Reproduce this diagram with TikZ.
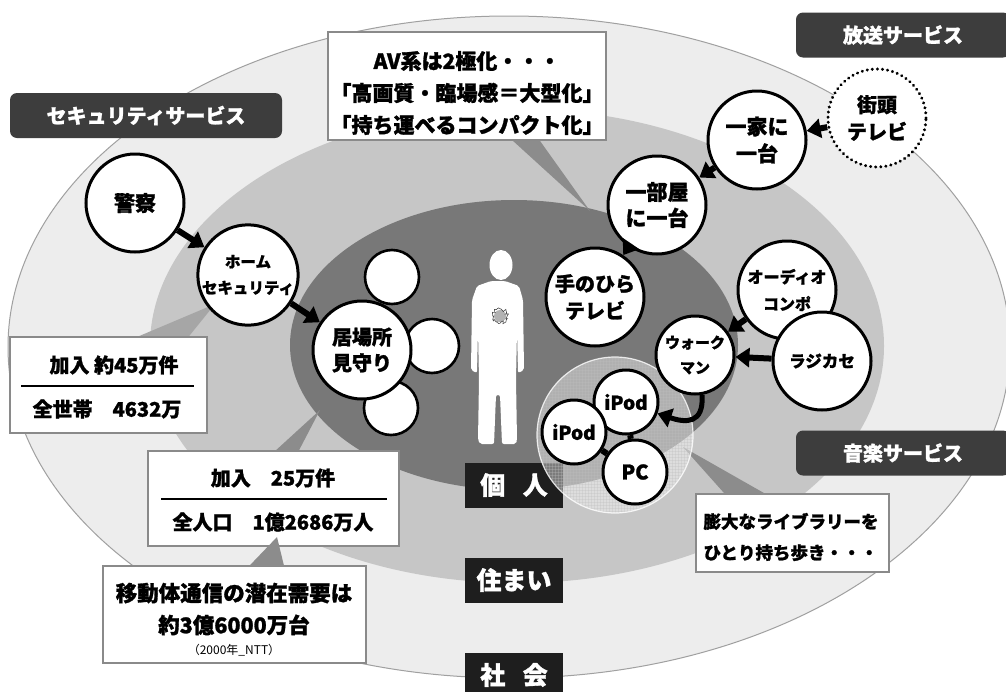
\documentclass[tikz,border=0pt]{standalone}
\usepackage{fontspec}
\setmainfont{Noto Sans CJK JP}[BoldFeatures={FakeBold=1.3}]
\usetikzlibrary{arrows.meta,calc,patterns,decorations.pathmorphing}
\newcommand\jp[2]{\bfseries\fontsize{#1}{#2}\selectfont}
\definecolor{outerc}{HTML}{EDEDED}
\definecolor{outerline}{HTML}{A0A0A0}
\definecolor{midc}{HTML}{C6C6C6}
\definecolor{innerc}{HTML}{787878}
\definecolor{tailc}{HTML}{8C8C8C}
\definecolor{taillight}{HTML}{A6A6A6}
\definecolor{tagc}{HTML}{3D3D3D}
\definecolor{layerc}{HTML}{1E1E1E}
\definecolor{boxline}{HTML}{8A8A8A}
\begin{document}
\begin{tikzpicture}[x=1pt,y=-1pt,
  bub/.style={circle, draw=black, line width=3pt, fill=white, minimum size=#1, inner sep=0pt, align=center},
  bub/.default=98pt,
  dotbub/.style={circle, draw=black, line width=3.2pt, dash pattern=on 0.1pt off 5pt, line cap=round, fill=white, minimum size=98pt, inner sep=0pt, align=center},
  blob/.style={circle, draw=black, line width=2.6pt, fill=white, minimum size=54pt, inner sep=0pt},
  arr/.style={line width=6pt, -{Triangle[length=14pt,width=19pt]}},
  link/.style={line width=6pt},
  tag/.style={rounded corners=7pt, fill=tagc, text=white, minimum height=45pt, inner sep=0pt, font=\jp{20}{24}},
  layer/.style={fill=layerc, text=white, minimum width=98pt, minimum height=45pt, inner sep=0pt, font=\jp{25}{28}},
  notebox/.style={draw=boxline, line width=1.8pt, fill=white, inner sep=0pt},
  txt/.style={inner sep=0pt, align=center},
]
\useasboundingbox (0,0) rectangle (1006,691);
\fill[white] (0,0) rectangle (1006,691);

% three rings: society, home, individual
\path[fill=outerc, draw=outerline, line width=1pt] (509,347) ellipse [x radius=501pt, y radius=331pt];
\path[fill=midc] (517,346) ellipse [x radius=367pt, y radius=237pt];
\path[fill=innerc] (514,345) ellipse [x radius=224pt, y radius=145pt];

% callout boxes (drawn first so the pointers can sit under them)
\node[notebox, minimum width=278pt, minimum height=108pt] (av) at (467,86) {};
\node[notebox, minimum width=197pt, minimum height=96pt] (stat1) at (108.5,385) {};
\node[notebox, minimum width=251pt, minimum height=95pt] (stat2) at (273.5,498.5) {};
\node[notebox, minimum width=193pt, minimum height=78pt] (lib) at (792.5,533) {};

\coordinate (avtip) at (590,211);
\coordinate (stat1tip) at (215,304);
\coordinate (stat2tip) at (320,410);
\coordinate (libtip) at (683,447);
\coordinate (mobtip) at (277,537);

\fill[tailc] ($(av.south)+(46,0)$) -- (avtip) -- ($(av.south)+(73,0)$) -- cycle;
\fill[taillight] ($(stat1.north west)+(130,0)$) -- (stat1tip) -- ($(stat1.north west)+(180,0)$) -- cycle;
\fill[tailc] ($(stat2.north west)+(129,0)$) -- (stat2tip) -- ($(stat2.north west)+(152,0)$) -- cycle;
\fill[tailc] ($(lib.north west)+(29,0)$) -- (libtip) -- ($(lib.north west)+(69,0)$) -- cycle;

% redraw the boxes over the pointer bases
\node[notebox, minimum width=278pt, minimum height=108pt] (avbox) at (467,86) {};
\node[notebox, minimum width=197pt, minimum height=96pt] (stat1box) at (108.5,385) {};
\node[notebox, minimum width=251pt, minimum height=95pt] (stat2box) at (273.5,498.5) {};
\node[notebox, minimum width=193pt, minimum height=78pt] (libbox) at (792.5,533) {};

\node[notebox, minimum width=263pt, minimum height=97pt] (mob) at (234.5,614.5) {};
\fill[tailc] ($(mob.north west)+(147,1)$) -- (mobtip) -- ($(mob.north west)+(182,1)$) -- cycle;

% box texts
\node[txt, font=\jp{21}{32}] (avtext) at (467,93) {AV系は2極化・・・\\「高画質・臨場感＝大型化」\\「持ち運べるコンパクト化」};
\node[txt, font=\jp{20}{22}] (stat1a) at (114,365) {加入 約45万件};
\node[txt, font=\jp{20}{22}] (stat1b) at (107,409) {全世帯　4632万};
\draw[line width=1.6pt] ($(stat1box.west)+(12,1)$) -- ($(stat1box.east)+(-14,1)$);
\node[txt, font=\jp{20}{22}] (stat2a) at (273,478) {加入　25万件};
\node[txt, font=\jp{20}{22}] (stat2b) at (273,522) {全人口　1億2686万人};
\draw[line width=1.6pt] ($(stat2box.west)+(14,0.5)$) -- ($(stat2box.east)+(-13,0.5)$);
\node[txt, font=\jp{21.5}{32}] (mobtext) at (234,609) {移動体通信の潜在需要は\\約3億6000万台};
\node[txt, font=\fontsize{12}{14}\selectfont] (mobsrc) at (234,650) {（2000年\_NTT）};
\node[txt, font=\jp{17.5}{31}, align=left] (libtext) at (791,537) {膨大なライブラリーを\\ひとり持ち歩き・・・};

% figure of a person in the centre
\fill[white] (501,265) ellipse [x radius=11.5pt, y radius=15pt];
\fill[white, rounded corners=2pt] (491,281) -- (477,286) -- (472,300) -- (471,370) -- (477,373)
  -- (478,330) -- (479,380) -- (478,440) -- (480,444) -- (494,444) -- (496,395) -- (500,395)
  -- (502,444) -- (516,444) -- (517,440) -- (516,380) -- (517,330) -- (518,373) -- (524,370)
  -- (523,300) -- (519,286) -- (505,281) -- cycle;
\fill[black!30] (500,316) circle [radius=6pt];
\draw[black!70, line width=0.6pt, decorate, decoration={random steps, segment length=1.3pt, amplitude=1.6pt}]
  (500,316) circle [radius=7pt];

% layer labels
\node[layer] (lyrself) at (514,485) {個\hspace{0.7em}人};
\node[layer] (lyrhome) at (514,580) {住まい};
\node[layer] (lyrsoc) at (514,675) {社\hspace{0.7em}会};

% security services
\node[blob] (blobA) at (392,277) {};
\node[blob] (blobB) at (432,346) {};
\node[blob] (blobC) at (391,408) {};
\node[bub, font=\jp{21}{26}] (police) at (135,203) {警察};
\node[bub, font=\jp{15.5}{26}] (homesec) at (248,275) {ホーム\\セキュリティ};
\node[bub, font=\jp{20}{26}] (ibasho) at (362,350) {居場所\\見守り};
\draw[arr] (police) -- (homesec);
\draw[arr] (homesec) -- (ibasho);

% broadcast services
\node[dotbub, font=\jp{20}{27}] (street) at (877,118) {街頭\\テレビ};
\node[bub, font=\jp{21}{27}] (household) at (757,140) {一家に\\一台};
\node[bub, font=\jp{21}{26}] (room) at (657,205) {一部屋\\に一台};
\node[bub, font=\jp{20}{27}] (palm) at (595,297) {手のひら\\テレビ};
\draw[arr] (street) -- (household);
\draw[arr] (household) -- (room);
\draw[arr] (room) -- (palm);

% music services
\path[fill=white, fill opacity=0.42] (615,435) circle [radius=78pt];
\path[pattern=grid, pattern color=black!25, opacity=0.3] (615,435) circle [radius=78pt];
\draw[white, line width=1.2pt, opacity=0.8] (615,435) circle [radius=78pt];

\node[bub, font=\jp{16}{27}] (compo) at (787,290) {オーディオ\\コンポ};
\node[bub, font=\jp{16.5}{20}] (radicasse) at (822,361) {ラジカセ};
\node[bub=78pt, font=\jp{15}{25}] (walkman) at (695,355) {ウォーク\\マン};
\node[bub=64pt, font=\jp{19}{22}] (ipodA) at (626,402) {iPod};
\node[bub=64pt, font=\jp{19}{22}] (ipodB) at (574,432) {iPod};
\node[bub=64pt, font=\jp{20}{22}] (pc) at (635,472) {PC};
\draw[link] (ipodA) -- (pc);
\draw[link] (ipodB) -- (pc);
\draw[arr] (compo) -- (walkman);
\draw[arr] (radicasse) -- (walkman);
\draw[arr, line width=5pt] (walkman.-80) .. controls (704,424) and (686,423) .. (ipodA.-20);

% service tags
\node[tag, minimum width=272pt] (tagsec) at (146,115.5) {セキュリティサービス};
\node[tag, minimum width=214pt] (tagcast) at (903,35) {放送サービス};
\node[tag, minimum width=214pt] (tagmusic) at (903,453) {音楽サービス};
\end{tikzpicture}
\end{document}
